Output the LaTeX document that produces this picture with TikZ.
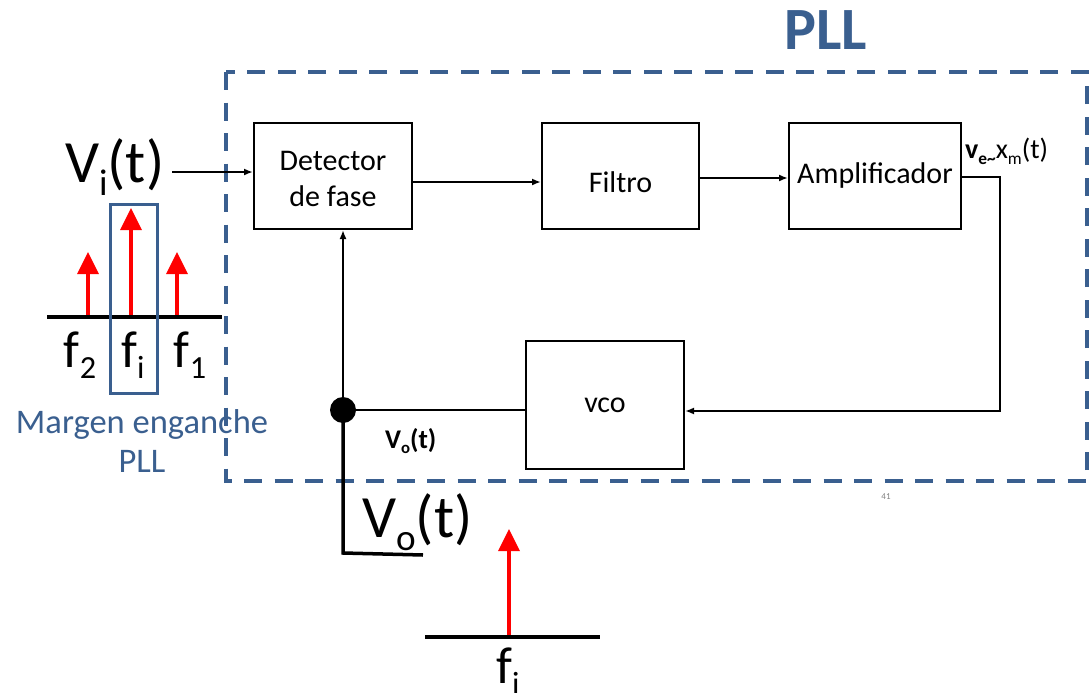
\documentclass[tikz,border=0pt]{standalone}
\usepackage{fontspec}
\setmainfont{Carlito}
\usepackage{graphicx}
\usetikzlibrary{arrows.meta}
\definecolor{pllblue}{HTML}{3A5F8F}
\newcommand\sbs[1]{\raisebox{-0.22em}{\scalebox{0.62}{#1}}}
\newcommand\fsz[2]{\fontsize{#1}{#2}\selectfont}
\newcommand\lowr[2]{\raisebox{-#1}[\height][\depth]{#2}}
\begin{document}
\begin{tikzpicture}[x=1pt,y=-1pt,
  blk/.style={draw, line width=2pt, inner sep=0pt, font=\fsz{30}{36}, align=center},
  conn/.style={line width=2pt, -{Latex[length=9pt,width=7pt]}},
  wire/.style={line width=2pt},
  thick wire/.style={line width=3.5pt},
  redarr/.style={red, line width=3.5pt, -{Triangle[length=22pt,width=21pt]}},
  axisline/.style={line width=4pt},
  bigtxt/.style={inner sep=0pt, font=\fsz{60}{70}},
  ftxt/.style={inner sep=0pt, font=\fsz{52}{60}},
  bluetxt/.style={inner sep=0pt, text=pllblue, font=\fsz{34.5}{39}},
  lbl/.style={inner sep=0pt, font=\fsz{28}{32}}]
\useasboundingbox (0,0) rectangle (1089,693);

% PLL dashed frame and title
\draw[pllblue, line width=4.5pt, dash pattern=on 18pt off 12.5pt] (226,72) rectangle (1087,481);
\node[inner sep=0pt, anchor=base, text=pllblue, font=\fsz{60}{70}\bfseries] (title) at (826,49) {PLL};

% blocks
\node[blk, minimum width=158pt, minimum height=106pt] (det) at (333,176) {\lowr{3pt}{Detector}\\\lowr{3pt}{de fase}};
\node[blk, minimum width=157pt, minimum height=106pt] (filt) at (620.5,176) {\lowr{6pt}{Filtro}};
\node[blk, minimum width=172pt, minimum height=106pt] (amp) at (875,176) {Amplificador};
\node[blk, minimum width=158pt, minimum height=128pt] (vco) at (605,405) {vco};

% input
\node[bigtxt, anchor=base west] (vi) at (65,182) {V\sbs{i}(t)};
\coordinate (vistart) at (172,172);
\draw[conn] (vistart) -- (vistart -| det.west);

% forward path
\coordinate (y182) at (0,182);
\coordinate (y178) at (0,178);
\coordinate (y177) at (0,177);
\draw[conn] (det.east |- y182) -- (filt.west |- y182);
\draw[conn] (filt.east |- y178) -- (amp.west |- y178);
\coordinate (c1) at (1000,177);
\coordinate (c2) at (1000,411);
\draw[conn] (amp.east |- y177) -- (c1) -- (c2) -- (vco.east |- c2);
\node[lbl, anchor=base west] (ve) at (965,158) {\textbf{v}\sbs{\textbf{e\textasciitilde}}x\sbs{m}(t)};

% feedback
\node[circle, fill, minimum size=26pt, inner sep=0pt] (dot) at (343,410) {};
\draw[wire] (vco.west |- dot) -- (dot);
\draw[conn] (dot.center) -- (dot |- det.south);
\node[lbl, anchor=base west, font=\fsz{27}{30}\bfseries] (volbl) at (385,448) {V\sbs{o}(t)};
\coordinate (o1) at (343,553);
\coordinate (o2) at (423,555);
\draw[thick wire] (dot.center) -- (o1) -- (o2);
\node[bigtxt, anchor=base west] (vo) at (362,537) {V\sbs{o}(t)};

% left spectrum
\draw[redarr] (88,317) -- (88,252);
\draw[redarr] (131,317) -- (131,208);
\draw[redarr] (177,317) -- (177,252);
\draw[axisline] (47,317) -- (222,317);
\draw[pllblue, line width=3pt] (110,204) rectangle (157,393);
\node[ftxt, anchor=base] (f2) at (80,367) {f\sbs{2}};
\node[ftxt, anchor=base] (fi) at (133,367) {f\sbs{i}};
\node[ftxt, anchor=base] (f1) at (190,367) {f\sbs{1}};
\node[bluetxt, anchor=base] (mg) at (142,433) {Margen enganche};
\node[bluetxt, anchor=base] (mg2) at (142,472) {PLL};

% bottom spectrum
\draw[redarr] (509,637) -- (509,529);
\draw[axisline] (425,637) -- (600,637);
\node[ftxt, anchor=base] (fib) at (508,683) {f\sbs{i}};

% page number
\node[inner sep=0pt, text=gray, font=\fsz{9}{10}] (pg) at (886,497) {41};
\end{tikzpicture}
\end{document}
